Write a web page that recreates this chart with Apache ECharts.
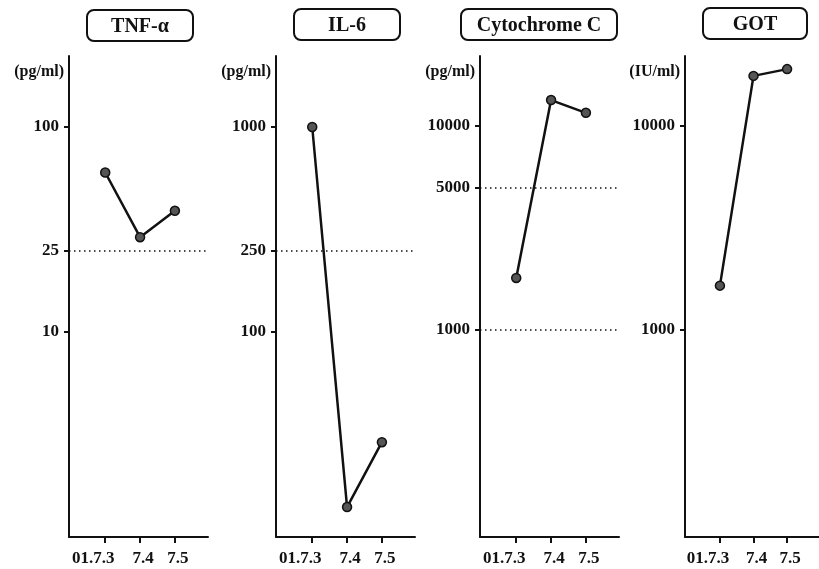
<!DOCTYPE html>
<html>
<head>
<meta charset="utf-8">
<script src="https://cdn.jsdelivr.net/npm/echarts@6/dist/echarts.min.js"></script>
<style>
  html, body { margin: 0; padding: 0; background: #fff; }
  #chart { width: 819px; height: 569px; }
</style>
</head>
<body>
<div id="chart"></div>
<script>
// Sampling dates (year.month.day)
const dates = ['01.7.3', '7.4', '7.5'];

// Measured concentrations per marker
const tnfValues = [60, 29, 39];
const il6Values = [1000, 14, 29];
const cytochromeValues = [1800, 13400, 11600];
const gotValues = [1650, 17600, 19000];

// Labelled ticks on each log axis
const tnfTicks = [10, 25, 100];
const il6Ticks = [100, 250, 1000];
const cytochromeTicks = [1000, 5000, 10000];
const gotTicks = [1000, 10000];

// Reference (cut-off) levels drawn as dotted lines
const tnfCutoffs = [25];
const il6Cutoffs = [250];
const cytochromeCutoffs = [1000, 5000];
const gotCutoffs = [];

const FONT = '"Liberation Serif", "Times New Roman", serif';
const INK = '#111';

const panels = [
  { title: 'TNF-α', unit: '(pg/ml)', values: tnfValues, ticks: tnfTicks, cutoffs: tnfCutoffs,
    min: 1, max: 222, left: 69, box: [87, 10, 106, 31] },
  { title: 'IL-6', unit: '(pg/ml)', values: il6Values, ticks: il6Ticks, cutoffs: il6Cutoffs,
    min: 10, max: 2220, left: 276, box: [294, 9, 106, 31] },
  { title: 'Cytochrome C', unit: '(pg/ml)', values: cytochromeValues, ticks: cytochromeTicks, cutoffs: cytochromeCutoffs,
    min: 96.7, max: 22030, left: 480, box: [461, 9, 156, 31] },
  { title: 'GOT', unit: '(IU/ml)', values: gotValues, ticks: gotTicks, cutoffs: gotCutoffs,
    min: 96.7, max: 22030, left: 685, box: [703, 8, 104, 31] }
];

const PLOT_TOP = 56, PLOT_H = 481, PLOT_W = 139;

const grid = [], xAxis = [], yAxis = [], series = [], graphic = [];

panels.forEach((p, i) => {
  grid.push({ left: p.left, top: PLOT_TOP, width: PLOT_W, height: PLOT_H, containLabel: false });

  xAxis.push({
    type: 'value', gridIndex: i, min: -0.04, max: 3.95,
    axisLine: { show: true, onZero: false, lineStyle: { color: INK, width: 2 } },
    axisTick: { show: true, length: 6, lineStyle: { color: INK, width: 2 }, customValues: [1, 2, 3] },
    axisLabel: {
      customValues: [1, 2, 3], margin: 13,
      formatter: v => (v === 1 ? '{a|' : '{b|') + dates[v - 1] + '}',
      rich: {
        a: { fontFamily: FONT, fontWeight: 'bold', fontSize: 17, color: INK, padding: [0, 24, 0, 0] },
        b: { fontFamily: FONT, fontWeight: 'bold', fontSize: 17, color: INK, padding: [0, 0, 0, 6] }
      }
    },
    splitLine: { show: false }
  });

  yAxis.push({
    type: 'log', logBase: 10, gridIndex: i, min: p.min, max: p.max,
    name: p.unit, nameLocation: 'end', nameGap: -16,
    nameTextStyle: { fontFamily: FONT, fontWeight: 'bold', fontSize: 16, color: INK,
      align: 'right', verticalAlign: 'middle', padding: [0, 5, 0, 0] },
    axisLine: { show: true, onZero: false, lineStyle: { color: INK, width: 2 } },
    axisTick: { show: true, length: 5, lineStyle: { color: INK, width: 2 }, customValues: p.ticks },
    axisLabel: { customValues: p.ticks, margin: 10, fontFamily: FONT, fontWeight: 'bold', fontSize: 17, color: INK,
      formatter: v => String(Math.round(v)) },
    splitLine: { show: false },
    minorTick: { show: false }
  });

  series.push({
    type: 'line', xAxisIndex: i, yAxisIndex: i,
    data: p.values.map((v, k) => [k + 1, v]),
    symbol: 'circle', symbolSize: 9,
    lineStyle: { color: INK, width: 2.5 },
    itemStyle: { color: '#555', borderColor: INK, borderWidth: 1.5 },
    markLine: {
      silent: true, symbol: 'none', animation: false,
      label: { show: false },
      lineStyle: { color: INK, width: 1.5, type: [1.5, 3.5] },
      data: p.cutoffs.map(c => ({ yAxis: c }))
    },
    animation: false
  });

  const [bx, by, bw, bh] = p.box;
  graphic.push({
    type: 'group',
    children: [
      { type: 'rect', shape: { x: bx, y: by, width: bw, height: bh, r: 7 },
        style: { fill: '#fff', stroke: INK, lineWidth: 2 } },
      { type: 'text', style: { text: p.title, x: bx + bw / 2, y: by + bh / 2 + 1, align: 'center',
          verticalAlign: 'middle', fill: INK, font: 'bold 20px ' + FONT } }
    ]
  });
});

const chart = echarts.init(document.getElementById('chart'), null, { renderer: 'canvas' });
chart.setOption({
  backgroundColor: '#fff',
  animation: false,
  grid, xAxis, yAxis, series, graphic
});
</script>
</body>
</html>
